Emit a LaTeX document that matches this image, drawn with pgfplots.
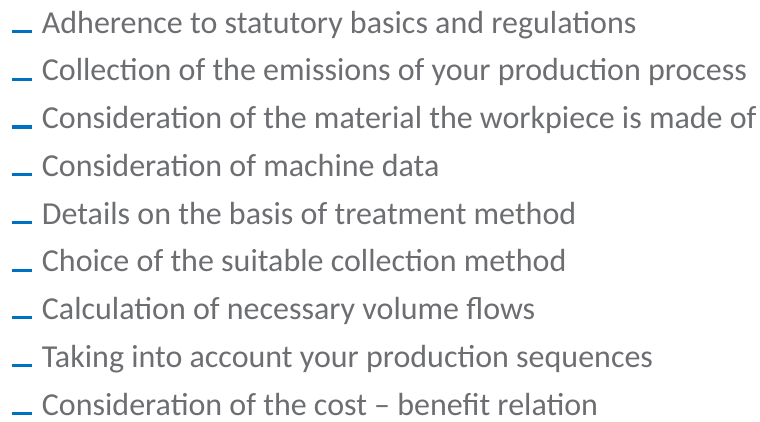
\documentclass[border=0pt]{standalone}
\usepackage{pgfplots}
\usepackage{pgfplotstable}
\pgfplotsset{compat=1.18}
\usepackage{fontspec}
\setmainfont{Carlito}
\definecolor{txtgray}{RGB}{109,110,113}
\definecolor{dashblue}{RGB}{0,112,192}
\pgfplotstableread[col sep=comma]{
x,y,label
41.7,387.8,Adherence to statutory basics and regulations
41.7,340.08,Collection of the emissions of your production process
41.7,292.35,Consideration of the material the workpiece is made of
41.7,244.63,Consideration of machine data
41.7,196.9,Details on the basis of treatment method
41.7,149.18,Choice of the suitable collection method
41.7,101.45,Calculation of necessary volume flows
41.7,53.73,Taking into account your production sequences
41.7,6.0,Consideration of the cost – benefit relation
}\items
\pgfplotstableread{
x y
11.7 389.5
31.7 389.5
nan nan
11.7 341.78
31.7 341.78
nan nan
11.7 294.05
31.7 294.05
nan nan
11.7 246.33
31.7 246.33
nan nan
11.7 198.6
31.7 198.6
nan nan
11.7 150.88
31.7 150.88
nan nan
11.7 103.15
31.7 103.15
nan nan
11.7 55.43
31.7 55.43
nan nan
11.7 7.7
31.7 7.7
}\dashes
\begin{document}
\begin{tikzpicture}
\begin{axis}[
  width=760pt, height=421pt, scale only axis,
  xmin=0, xmax=760, ymin=0, ymax=421,
  hide axis, clip=false, unbounded coords=jump,
]
\addplot[no markers, line width=3.2pt, color=dashblue, line cap=butt] table[x=x, y=y] {\dashes};
\addplot[only marks, mark=none, draw=none,
  point meta=explicit symbolic,
  nodes near coords,
  every node near coord/.style={anchor=base west, inner sep=0pt,
    text=txtgray, font=\fontsize{32pt}{33pt}\selectfont},
] table[x=x, y=y, meta=label, col sep=comma] {\items};
\end{axis}
\pgfresetboundingbox
\path (0,0) rectangle (760pt,421pt);
\end{tikzpicture}
\end{document}
